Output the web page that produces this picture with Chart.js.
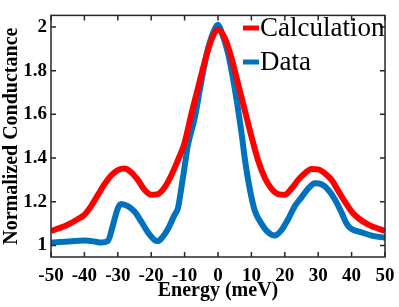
<!DOCTYPE html>
<html>
<head>
<meta charset="utf-8">
<script src="https://cdn.jsdelivr.net/npm/chart.js@4.4.0/dist/chart.umd.min.js"></script>
<style>
  html, body { margin: 0; padding: 0; background: #fff; }
  #wrap { width: 399px; height: 307px; }
</style>
</head>
<body>
<div id="wrap"><canvas id="chart" width="399" height="307"></canvas></div>
<script>
// Calculation curve (red)
const calcEnergy = [-50, -45, -42, -40, -38, -36, -34, -32, -30, -28, -26, -24, -22, -20, -18, -16, -14, -12, -10, -8, -6, -4, -2, 0,
  2, 4, 6, 8, 10, 12, 14, 16, 18, 20, 22, 24, 26, 28, 30, 32, 34, 36, 38, 40, 42, 45, 50];
const calcValues = [1.066, 1.095, 1.12, 1.14, 1.18, 1.23, 1.28, 1.32, 1.345, 1.352, 1.335, 1.30, 1.255, 1.232, 1.235, 1.265, 1.32, 1.39, 1.47, 1.60, 1.72, 1.84, 1.94, 1.987,
  1.95, 1.86, 1.74, 1.62, 1.50, 1.39, 1.31, 1.26, 1.235, 1.232, 1.26, 1.30, 1.33, 1.35, 1.348, 1.33, 1.30, 1.25, 1.20, 1.155, 1.125, 1.095, 1.066];

// Measured data (blue)
const dataEnergy = [-50, -45, -40, -37, -35, -33, -31.5, -30, -29, -27, -25, -23, -21, -19, -18, -16.5, -15, -13, -12, -11, -10, -9, -7, -5, -3, -1, 0,
  1, 3, 5, 7, 8, 9.5, 11, 13, 15, 17, 19, 21, 23, 25, 27, 29, 31, 33, 35, 37, 38.5, 40, 43, 46, 50];
const dataValues = [1.012, 1.018, 1.022, 1.018, 1.013, 1.02, 1.09, 1.17, 1.19, 1.18, 1.155, 1.11, 1.06, 1.025, 1.02, 1.04, 1.075, 1.14, 1.17, 1.26, 1.36, 1.46, 1.58, 1.75, 1.90, 1.99, 2.01,
  1.98, 1.88, 1.72, 1.52, 1.40, 1.26, 1.16, 1.10, 1.06, 1.045, 1.07, 1.12, 1.18, 1.22, 1.26, 1.285, 1.28, 1.255, 1.21, 1.15, 1.10, 1.075, 1.06, 1.045, 1.035];

const xTicks = [-50, -40, -30, -20, -10, 0, 10, 20, 30, 40, 50];
const yTicks = [1, 1.2, 1.4, 1.6, 1.8, 2];
const seriesNames = ['Calculation', 'Data'];
const seriesColors = ['#FF0000', '#0072BD'];

const serif = "'Liberation Serif', 'Times New Roman', serif";

function toPoints(xs, ys) {
  return xs.map((x, i) => ({ x: x, y: ys[i] }));
}

// Frame, inward ticks and legend in the MATLAB style
const framePlugin = {
  id: 'frame',
  afterDraw(chart) {
    const ctx = chart.ctx;
    const a = chart.chartArea;
    const xs = chart.scales.x;
    const ys = chart.scales.y;
    const len = 5;
    ctx.save();
    ctx.strokeStyle = '#262626';
    ctx.lineWidth = 1.5;
    ctx.strokeRect(a.left, a.top, a.right - a.left, a.bottom - a.top);
    ctx.beginPath();
    xTicks.forEach(v => {
      const px = xs.getPixelForValue(v);
      ctx.moveTo(px, a.bottom); ctx.lineTo(px, a.bottom - len);
      ctx.moveTo(px, a.top); ctx.lineTo(px, a.top + len);
    });
    yTicks.forEach(v => {
      const py = ys.getPixelForValue(v);
      ctx.moveTo(a.left, py); ctx.lineTo(a.left + len, py);
      ctx.moveTo(a.right, py); ctx.lineTo(a.right - len, py);
    });
    ctx.stroke();

    // legend
    ctx.font = '27px ' + serif;
    ctx.textBaseline = 'middle';
    ctx.fillStyle = '#000';
    const lx = 243;
    const rows = [28, 62];
    seriesNames.forEach((name, i) => {
      ctx.strokeStyle = seriesColors[i];
      ctx.lineWidth = 5;
      ctx.beginPath();
      ctx.moveTo(lx, rows[i]);
      ctx.lineTo(lx + 16, rows[i]);
      ctx.stroke();
      ctx.fillText(name, lx + 17, rows[i] + 1);
    });
    ctx.restore();
  }
};

const ctx = document.getElementById('chart').getContext('2d');
new Chart(ctx, {
  type: 'line',
  data: {
    datasets: [
      {
        label: seriesNames[0],
        data: toPoints(calcEnergy, calcValues),
        borderColor: seriesColors[0],
        borderWidth: 6,
        pointRadius: 0,
        cubicInterpolationMode: 'monotone',
        fill: false
      },
      {
        label: seriesNames[1],
        data: toPoints(dataEnergy, dataValues),
        borderColor: seriesColors[1],
        borderWidth: 6,
        pointRadius: 0,
        cubicInterpolationMode: 'monotone',
        fill: false
      }
    ]
  },
  options: {
    responsive: false,
    animation: false,
    layout: { padding: { top: 5, right: 14, left: 0, bottom: 0 } },
    plugins: {
      legend: { display: false },
      tooltip: { enabled: false }
    },
    scales: {
      x: {
        type: 'linear',
        min: -50,
        max: 50,
        afterBuildTicks: s => { s.ticks = xTicks.map(v => ({ value: v })); },
        afterFit: s => { s.height = 50; s.paddingRight = 0; },
        grid: { display: false, drawTicks: false },
        border: { display: false },
        ticks: {
          color: '#000',
          padding: 8,
          maxRotation: 0,
          font: { family: serif, size: 19, weight: 'bold' }
        },
        title: {
          display: true,
          text: 'Energy (meV)',
          color: '#000',
          padding: { top: 0 },
          font: { family: serif, size: 20, weight: 'bold' }
        }
      },
      y: {
        type: 'linear',
        min: 0.947,
        max: 2.053,
        afterBuildTicks: s => { s.ticks = yTicks.map(v => ({ value: v })); },
        afterFit: s => { s.width = 51; },
        grid: { display: false, drawTicks: false },
        border: { display: false },
        ticks: {
          color: '#000',
          padding: 4,
          font: { family: serif, size: 19, weight: 'bold' },
          callback: v => String(Math.round(v * 10) / 10)
        },
        title: {
          display: true,
          text: 'Normalized Conductance',
          color: '#000',
          padding: { top: 0, bottom: 0 },
          font: { family: serif, size: 20, weight: 'bold' }
        }
      }
    }
  },
  plugins: [framePlugin]
});
</script>
</body>
</html>
